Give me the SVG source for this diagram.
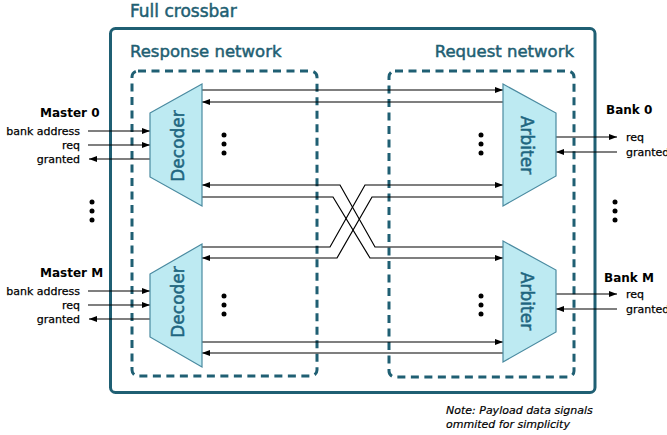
<svg xmlns="http://www.w3.org/2000/svg" width="667" height="435" viewBox="0 0 667 435">
  <style>
    .title { font-family: "DejaVu Sans", Verdana, sans-serif; fill: #1f5f73; stroke: #1f5f73; stroke-width: 0.5; }
    .blk { fill: #bdeaf2; stroke: #4a8aa0; stroke-width: 1.2; }
    .blktxt { font-family: "DejaVu Sans", Verdana, sans-serif; font-size: 17px; fill: #1f6680; stroke: #1f6680; stroke-width: 0.5; text-anchor: middle; }
    .port { font-family: "DejaVu Sans", Verdana, sans-serif; font-size: 11px; fill: #000; stroke: #000; stroke-width: 0.25; }
    .head { font-family: "DejaVu Sans", Verdana, sans-serif; font-size: 12px; font-weight: bold; fill: #000; }
    .note { font-family: "DejaVu Sans", Verdana, sans-serif; font-size: 11px; font-style: italic; fill: #000; stroke: #000; stroke-width: 0.2; }
    .wire { fill: none; stroke: #000; stroke-width: 1.2; }
    .arr { marker-end: url(#ah); }
    .dash { fill: none; stroke: #1f5f73; stroke-width: 3; stroke-dasharray: 8 5.5; }
    .dot { fill: #000; }
  </style>
  <defs>
    <marker id="ah" viewBox="0 0 8 6" refX="8" refY="3" markerWidth="8" markerHeight="6" markerUnits="userSpaceOnUse" orient="auto">
      <path d="M0,0 L8,3 L0,6 Z" fill="#000"/>
    </marker>
  </defs>

  <!-- crossbar frame -->
  <g id="crossbar">
    <rect x="110.5" y="28.5" width="484.5" height="364" rx="5" fill="none" stroke="#1f5f73" stroke-width="3"/>
    <text class="title" x="130" y="17" font-size="17">Full crossbar</text>
  </g>

  <g id="response-network">
    <rect class="dash" x="132" y="71" width="185" height="305" rx="6"/>
    <text class="title" x="130" y="57" font-size="16.5">Response network</text>
  </g>

  <g id="request-network">
    <rect class="dash" x="389" y="71" width="185" height="306" rx="6"/>
    <text class="title" x="574" y="57" font-size="16.5" text-anchor="end">Request network</text>
  </g>

  <!-- connectors -->
  <g id="connectors">
    <!-- master 0 ports -->
    <path class="wire arr" d="M88,131 H150"/>
    <path class="wire arr" d="M88,145 H150"/>
    <path class="wire arr" d="M150,159 H89"/>
    <!-- master M ports -->
    <path class="wire arr" d="M88,291 H150"/>
    <path class="wire arr" d="M88,305 H150"/>
    <path class="wire arr" d="M150,319 H89"/>
    <!-- bank 0 ports -->
    <path class="wire arr" d="M556,137 H617"/>
    <path class="wire arr" d="M617,152 H556"/>
    <!-- bank M ports -->
    <path class="wire arr" d="M556,294 H617"/>
    <path class="wire arr" d="M617,309 H556"/>

    <!-- decoder 0 <-> arbiter 0 -->
    <path class="wire arr" d="M202,90 H503"/>
    <path class="wire arr" d="M503,102 H202"/>
    <!-- crossed links -->
    <path class="wire arr" d="M503,247 H375 L340,185 H202"/>
    <path class="wire arr" d="M202,197 H333 L370,258 H503"/>
    <path class="wire arr" d="M202,247 H330 L365,185 H503"/>
    <path class="wire arr" d="M503,197 H372 L337,258 H202"/>
    <!-- decoder M <-> arbiter M -->
    <path class="wire arr" d="M202,342 H503"/>
    <path class="wire arr" d="M503,353 H202"/>
  </g>

  <g id="decoder-0">
    <polygon class="blk" points="150,113 202,84 202,206 150,177"/>
    <text class="blktxt" transform="translate(184,146) rotate(-90)">Decoder</text>
  </g>

  <g id="decoder-m">
    <polygon class="blk" points="150,274 202,244 202,367 150,337"/>
    <text class="blktxt" transform="translate(184,302) rotate(-90)">Decoder</text>
  </g>

  <g id="arbiter-0">
    <polygon class="blk" points="503,84 556,113 556,176 503,206"/>
    <text class="blktxt" transform="translate(521,145) rotate(90)">Arbiter</text>
  </g>

  <g id="arbiter-m">
    <polygon class="blk" points="503,241 556,270 556,332 503,362"/>
    <text class="blktxt" transform="translate(521,301) rotate(90)">Arbiter</text>
  </g>

  <g id="master-0">
    <text class="head" x="40" y="117">Master 0</text>
    <text class="port" x="80" y="134.5" text-anchor="end">bank address</text>
    <text class="port" x="80" y="148.5" text-anchor="end">req</text>
    <text class="port" x="80" y="162.5" text-anchor="end">granted</text>
  </g>

  <g id="master-m">
    <text class="head" x="40" y="277">Master M</text>
    <text class="port" x="80" y="294.5" text-anchor="end">bank address</text>
    <text class="port" x="80" y="308.5" text-anchor="end">req</text>
    <text class="port" x="80" y="322.5" text-anchor="end">granted</text>
  </g>

  <g id="bank-0">
    <text class="head" x="606" y="114">Bank 0</text>
    <text class="port" x="626" y="140.5">req</text>
    <text class="port" x="626" y="155.5">granted</text>
  </g>

  <g id="bank-m">
    <text class="head" x="604" y="282">Bank M</text>
    <text class="port" x="626" y="297.5">req</text>
    <text class="port" x="626" y="312.5">granted</text>
  </g>

  <!-- ellipsis marks -->
  <g id="ellipses">
    <circle class="dot" cx="224" cy="135" r="2.5"/>
    <circle class="dot" cx="224" cy="144" r="2.5"/>
    <circle class="dot" cx="224" cy="153" r="2.5"/>
    <circle class="dot" cx="481" cy="135" r="2.5"/>
    <circle class="dot" cx="481" cy="144" r="2.5"/>
    <circle class="dot" cx="481" cy="153" r="2.5"/>
    <circle class="dot" cx="224" cy="296" r="2.5"/>
    <circle class="dot" cx="224" cy="305" r="2.5"/>
    <circle class="dot" cx="224" cy="314" r="2.5"/>
    <circle class="dot" cx="481" cy="296" r="2.5"/>
    <circle class="dot" cx="481" cy="305" r="2.5"/>
    <circle class="dot" cx="481" cy="314" r="2.5"/>
    <circle class="dot" cx="92" cy="202" r="2.5"/>
    <circle class="dot" cx="92" cy="211" r="2.5"/>
    <circle class="dot" cx="92" cy="220" r="2.5"/>
    <circle class="dot" cx="615" cy="202" r="2.5"/>
    <circle class="dot" cx="615" cy="211" r="2.5"/>
    <circle class="dot" cx="615" cy="220" r="2.5"/>
  </g>

  <g id="note">
    <text class="note" x="446" y="414">Note: Payload data signals</text>
    <text class="note" x="446" y="428">ommited for simplicity</text>
  </g>
</svg>
